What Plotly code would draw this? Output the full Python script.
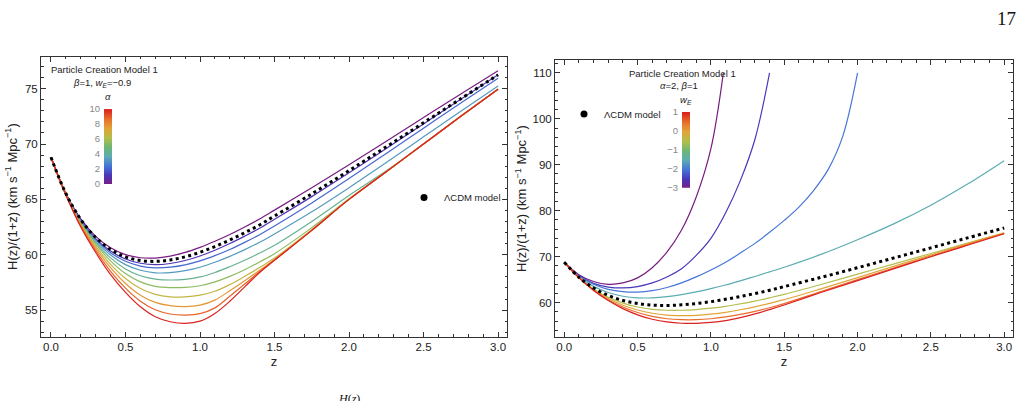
import plotly.graph_objects as go
from plotly.colors import sample_colorscale

# ---------------- data ----------------
z_grid = [0.0, 0.1, 0.2, 0.3, 0.4, 0.5, 0.6, 0.7, 0.8, 0.9, 1.0, 1.1, 1.2, 1.3, 1.4, 1.5,
          1.75, 2.0, 2.25, 2.5, 2.75, 3.0]

lcdm = [68.80, 65.53, 63.19, 61.56, 60.48, 59.81, 59.48, 59.40, 59.53, 59.81, 60.22, 60.74,
        61.33, 61.99, 62.69, 63.50, 65.50, 67.60, 69.75, 71.92, 74.09, 76.25]

# Left panel: alpha = 0 ... 10 (colour order purple -> red)
alpha_curves = [
    [68.80, 65.55, 63.24, 61.66, 60.63, 60.01, 59.73, 59.70, 59.88, 60.21, 60.67, 61.22, 61.83, 62.51, 63.23, 64.03, 66.05, 68.12, 70.25, 72.39, 74.53, 76.62],
    [68.80, 65.50, 63.12, 61.46, 60.33, 59.61, 59.23, 59.10, 59.21, 59.48, 59.89, 60.41, 61.01, 61.68, 62.39, 63.20, 65.25, 67.40, 69.60, 71.82, 74.04, 76.25],
    [68.80, 65.48, 63.07, 61.36, 60.18, 59.41, 58.98, 58.82, 58.88, 59.09, 59.44, 59.92, 60.48, 61.12, 61.81, 62.60, 64.68, 66.88, 69.15, 71.43, 73.71, 75.95],
    [68.80, 65.45, 62.99, 61.23, 59.98, 59.11, 58.60, 58.37, 58.38, 58.56, 58.87, 59.32, 59.85, 60.46, 61.12, 61.88, 63.88, 66.06, 68.33, 70.65, 72.97, 75.25],
    [68.80, 65.43, 62.93, 61.10, 59.72, 58.72, 58.10, 57.80, 57.72, 57.78, 58.00, 58.40, 58.92, 59.50, 60.15, 60.85, 63.00, 65.35, 67.58, 70.03, 72.51, 74.97],
    [68.80, 65.42, 62.85, 60.95, 59.45, 58.30, 57.55, 57.15, 57.03, 57.05, 57.20, 57.55, 58.05, 58.65, 59.35, 60.10, 62.45, 65.05, 67.52, 70.01, 72.50, 74.96],
    [68.80, 65.41, 62.77, 60.78, 59.13, 57.85, 56.95, 56.42, 56.20, 56.20, 56.35, 56.70, 57.30, 58.05, 58.85, 59.70, 62.28, 65.01, 67.50, 70.00, 72.50, 74.95],
    [68.80, 65.41, 62.70, 60.60, 58.83, 57.40, 56.35, 55.70, 55.40, 55.32, 55.45, 55.90, 56.75, 57.65, 58.60, 59.58, 62.22, 65.00, 67.50, 70.00, 72.50, 74.95],
    [68.80, 65.40, 62.60, 60.40, 58.50, 56.98, 55.80, 55.03, 54.65, 54.55, 54.68, 55.20, 56.25, 57.35, 58.48, 59.52, 62.20, 65.00, 67.50, 70.00, 72.50, 74.95],
    [68.80, 65.40, 62.50, 60.20, 58.20, 56.60, 55.30, 54.40, 53.95, 53.80, 54.00, 54.70, 55.80, 57.10, 58.40, 59.50, 62.20, 65.00, 67.50, 70.00, 72.50, 74.95],
]
alpha_ticks = [0, 2, 4, 6, 8, 10]

# Right panel: w_E values and curves
w_values = [-3.0, -2.5, -2.0, -1.5, -0.5, 0.0, 0.5, 1.0]
z_w_m3 = [0.0, 0.1, 0.2, 0.3, 0.4, 0.5, 0.6, 0.7, 0.8, 0.9, 1.0, 1.085]
h_w_m3 = [68.8, 66.1, 64.6, 64.0, 64.3, 65.4, 67.6, 71.0, 75.8, 83.0, 93.5, 110.0]
z_w_m25 = [0.0, 0.1, 0.2, 0.3, 0.4, 0.5, 0.6, 0.7, 0.8, 0.9, 1.0, 1.1, 1.2, 1.3, 1.4]
h_w_m25 = [68.8, 65.9, 64.2, 63.4, 63.2, 63.5, 64.3, 65.6, 67.4, 70.3, 74.0, 79.5, 86.5, 95.5, 110.0]
z_w_m2 = [0.0, 0.1, 0.2, 0.3, 0.4, 0.5, 0.6, 0.7, 0.8, 0.9, 1.0, 1.1, 1.2, 1.3, 1.4, 1.5,
          1.6, 1.7, 1.8, 1.9, 2.0]
h_w_m2 = [68.8, 65.8, 64.0, 62.9, 62.4, 62.3, 62.6, 63.3, 64.3, 65.6, 67.1, 68.8, 70.8, 72.9,
          75.3, 77.9, 80.8, 84.4, 89.0, 96.3, 110.0]
h_w_m15 = [68.8, 65.6, 63.55, 62.2, 61.4, 61.05, 61.05, 61.3, 61.75, 62.35, 63.05, 63.85, 64.75, 65.7, 66.7, 67.7, 70.5, 73.7, 77.2, 81.2, 85.8, 90.9]
h_w_m05 = [68.8, 65.5, 62.97, 61.18, 59.9, 59.05, 58.55, 58.35, 58.35, 58.5, 58.8, 59.2, 59.75, 60.35, 61.05, 61.8, 63.95, 66.2, 68.45, 70.7, 72.95, 75.2]
h_w_0 = [68.8, 65.48, 62.85, 60.9, 59.45, 58.4, 57.7, 57.3, 57.2, 57.25, 57.5, 57.9, 58.45, 59.1, 59.85, 60.65, 63.0, 65.45, 67.95, 70.4, 72.85, 75.12]
h_w_05 = [68.8, 65.47, 62.75, 60.65, 59.05, 57.85, 57.0, 56.5, 56.3, 56.3, 56.5, 56.9, 57.45, 58.1, 58.9, 59.8, 62.4, 65.0, 67.6, 70.15, 72.65, 75.06]
h_w_1 = [68.8, 65.45, 62.65, 60.45, 58.7, 57.35, 56.4, 55.8, 55.52, 55.5, 55.7, 56.1, 56.75, 57.55, 58.5, 59.5, 62.2, 64.8, 67.4, 70.0, 72.5, 75.0]
w_ticks = [-3, -2, -1, 0, 1]

rainbow = [
    [0.0, "rgb(120,28,129)"],
    [0.125, "rgb(72,56,186)"],
    [0.25, "rgb(70,118,216)"],
    [0.375, "rgb(92,172,178)"],
    [0.5, "rgb(110,182,116)"],
    [0.625, "rgb(180,190,76)"],
    [0.75, "rgb(226,164,56)"],
    [0.875, "rgb(233,108,44)"],
    [1.0, "rgb(218,34,32)"],
]

# ---------------- helpers ----------------
W, H = 1024, 401
FONT = "Liberation Sans, Arial, sans-serif"


def px(x):
    return x / W


def py(y):
    return 1 - y / H


fig = go.Figure()
dots = dict(color="black", width=3, dash="3px,3.4px", shape="spline")

# ---- left panel ----
n_a = len(alpha_curves)
alpha_cols = sample_colorscale(rainbow, [i / (n_a - 1) for i in range(n_a)])
for vals, col in zip(alpha_curves, alpha_cols):
    fig.add_trace(go.Scatter(x=z_grid, y=vals, mode="lines",
                             line=dict(color=col, width=1.2, shape="spline"),
                             xaxis="x", yaxis="y", showlegend=False, hoverinfo="skip"))
fig.add_trace(go.Scatter(x=z_grid, y=lcdm, mode="lines", line=dots,
                         xaxis="x", yaxis="y", showlegend=False, hoverinfo="skip"))
fig.add_trace(go.Scatter(x=[None], y=[None], mode="markers", name="ΛCDM model",
                         marker=dict(color="black", size=7), xaxis="x", yaxis="y",
                         legend="legend", showlegend=True))

# ---- right panel ----
w_lo, w_hi = min(w_ticks), max(w_ticks)
w_cols = sample_colorscale(rainbow, [(w - w_lo) / (w_hi - w_lo) for w in w_values])
right_sets = [
    (z_w_m3, h_w_m3), (z_w_m25, h_w_m25), (z_w_m2, h_w_m2), (z_grid, h_w_m15),
    (z_grid, h_w_m05), (z_grid, h_w_0), (z_grid, h_w_05), (z_grid, h_w_1),
]
for (zz, hh), col in zip(right_sets, w_cols):
    fig.add_trace(go.Scatter(x=zz, y=hh, mode="lines",
                             line=dict(color=col, width=1.2, shape="spline"),
                             xaxis="x2", yaxis="y2", showlegend=False, hoverinfo="skip"))
fig.add_trace(go.Scatter(x=z_grid, y=lcdm, mode="lines", line=dots,
                         xaxis="x2", yaxis="y2", showlegend=False, hoverinfo="skip"))
fig.add_trace(go.Scatter(x=[None], y=[None], mode="markers", name="ΛCDM model",
                         marker=dict(color="black", size=7), xaxis="x2", yaxis="y2",
                         legend="legend2", showlegend=True))

# ---- colour bars as small heatmaps ----
a_lo, a_hi = min(alpha_ticks), max(alpha_ticks)
fig.add_trace(go.Heatmap(z=[[a_lo, a_lo], [a_hi, a_hi]], x=[0, 1], y=[a_lo, a_hi],
                         colorscale=rainbow, zmin=a_lo, zmax=a_hi, zsmooth="best",
                         showscale=False, xaxis="x3", yaxis="y3", hoverinfo="skip"))
fig.add_trace(go.Heatmap(z=[[w_lo, w_lo], [w_hi, w_hi]], x=[0, 1], y=[w_lo, w_hi],
                         colorscale=rainbow, zmin=w_lo, zmax=w_hi, zsmooth="best",
                         showscale=False, xaxis="x4", yaxis="y4", hoverinfo="skip"))

# ---------------- layout ----------------
frame = dict(showline=True, linecolor="#333", linewidth=1, mirror="allticks",
             ticks="inside", ticklen=5, tickcolor="#333", tickwidth=1,
             showgrid=False, zeroline=False,
             tickfont=dict(family=FONT, size=11.5, color="#222"))
title_font = dict(family=FONT, size=13, color="#222")
ytitle = "H(z)/(1+z) (km s<sup>−1</sup> Mpc<sup>−1</sup>)"

cbar_y = dict(showline=False, zeroline=False, showgrid=False, ticks="",
              tickfont=dict(family=FONT, size=9.5, color="#888"), ticklabelstandoff=3,
              fixedrange=True)
cbar_x = dict(visible=False, range=[-0.5, 1.5], fixedrange=True)
leg_font = dict(family=FONT, size=9.5, color="#222")

fig.update_layout(
    width=W, height=H, margin=dict(l=0, r=0, t=0, b=0),
    paper_bgcolor="white", plot_bgcolor="white",
    font=dict(family=FONT, color="#222"),
    xaxis=dict(frame, domain=[px(41), px(507)], range=[-0.067, 3.06], dtick=0.5,
               tickformat=".1f", anchor="y",
               minor=dict(ticks="inside", ticklen=2.5, tickcolor="#333", dtick=0.1),
               title=dict(text="z", font=title_font, standoff=4)),
    yaxis=dict(frame, domain=[py(340), py(52)], range=[52.6, 77.9], dtick=5, anchor="x",
               minor=dict(ticks="inside", ticklen=2.5, tickcolor="#333", dtick=1),
               title=dict(text=ytitle, font=title_font, standoff=4)),
    xaxis2=dict(frame, domain=[px(555), px(1013)], range=[-0.063, 3.06], dtick=0.5,
                tickformat=".1f", anchor="y2",
                minor=dict(ticks="inside", ticklen=2.5, tickcolor="#333", dtick=0.1),
                title=dict(text="z", font=title_font, standoff=4)),
    yaxis2=dict(frame, domain=[py(340), py(56)], range=[52.6, 112.7], dtick=10, anchor="x2",
                minor=dict(ticks="inside", ticklen=2.5, tickcolor="#333", dtick=2),
                title=dict(text=ytitle, font=title_font, standoff=2)),
    xaxis3=dict(cbar_x, domain=[px(104), px(112)], anchor="y3"),
    yaxis3=dict(cbar_y, domain=[py(183), py(106)], range=[a_lo, a_hi],
                tickvals=alpha_ticks, anchor="x3"),
    xaxis4=dict(cbar_x, domain=[px(682), px(690)], anchor="y4"),
    yaxis4=dict(cbar_y, domain=[py(187), py(109)], range=[w_lo, w_hi],
                tickvals=w_ticks, anchor="x4"),
    legend=dict(x=px(404), y=py(197), xanchor="left", yanchor="middle",
                bgcolor="rgba(0,0,0,0)", font=leg_font),
    legend2=dict(x=px(564), y=py(111), xanchor="left", yanchor="middle",
                 bgcolor="rgba(0,0,0,0)", font=leg_font),
)

ann_font = dict(family=FONT, size=9.5, color="#222")
annotations = [
    dict(x=px(49), y=py(65), text="Particle Creation Model 1", xanchor="left"),
    dict(x=px(102), y=py(79), text="<i>β</i>=1, <i>w</i><sub><i>E</i></sub>=−0.9", xanchor="center"),
    dict(x=px(108), y=py(93), text="<i>α</i>", xanchor="center"),
    dict(x=px(627), y=py(69), text="Particle Creation Model 1", xanchor="left"),
    dict(x=px(679), y=py(82), text="<i>α</i>=2, <i>β</i>=1", xanchor="center"),
    dict(x=px(686), y=py(97), text="<i>w</i><sub><i>E</i></sub>", xanchor="center"),
]
for a in annotations:
    fig.add_annotation(xref="paper", yref="paper", yanchor="middle", showarrow=False,
                       font=ann_font, **a)

fig.add_annotation(xref="paper", yref="paper", x=px(1006), y=py(13), text="17",
                   showarrow=False, xanchor="center", yanchor="middle",
                   font=dict(family="Liberation Serif, DejaVu Serif, serif", size=19, color="#111"))
fig.add_annotation(xref="paper", yref="paper", x=px(349), y=py(395), text="<i>H</i>(<i>z</i>)",
                   showarrow=False, xanchor="center", yanchor="top",
                   font=dict(family="Liberation Serif, DejaVu Serif, serif", size=12, color="#111"))

fig.write_html("out.html")
